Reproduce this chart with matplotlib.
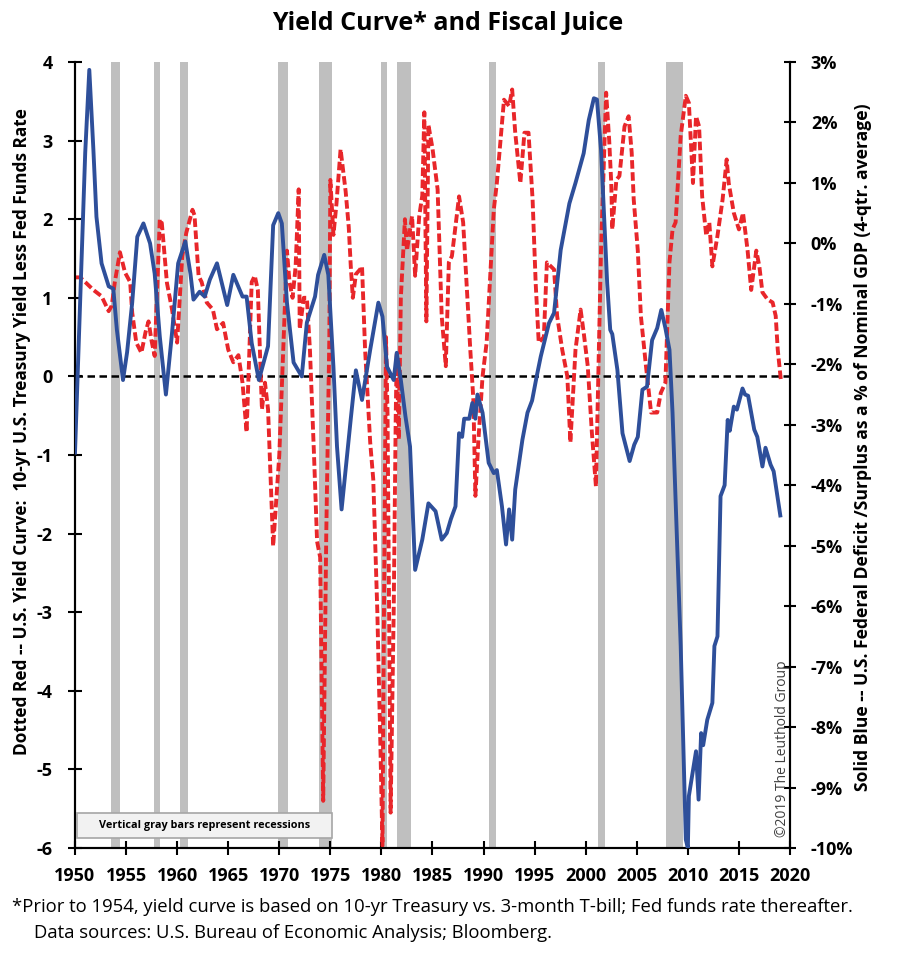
import numpy as np
import matplotlib
matplotlib.use("Agg")
import matplotlib.pyplot as plt
from matplotlib.patches import Rectangle

plt.rcParams['font.family'] = ['Open Sans', 'DejaVu Sans']

# recessions (start, end)
recessions = [(1953.5, 1954.4), (1957.7, 1958.3), (1960.3, 1961.1), (1969.9, 1970.9),
              (1973.9, 1975.2), (1980.0, 1980.5), (1981.5, 1982.9), (1990.5, 1991.2),
              (2001.2, 2001.9), (2007.9, 2009.5)]

# yield curve (10yr less fed funds), left axis
red_years = [1950.0, 1950.5, 1951.0, 1951.8, 1952.6, 1953.3, 1953.6, 1953.9, 1954.4, 1954.9,
             1955.4, 1955.6, 1956.0, 1956.5, 1956.9, 1957.2, 1957.5, 1957.8, 1958.3, 1958.5,
             1959.0, 1959.5, 1960.0, 1960.5, 1960.9, 1961.5, 1961.7, 1962.1, 1962.4, 1962.9,
             1963.5, 1963.9, 1964.5, 1965.0, 1965.5, 1966.0, 1966.4, 1966.8, 1967.3, 1967.6,
             1967.9, 1968.3, 1968.6, 1968.9, 1969.4, 1970.0, 1970.4, 1970.75, 1971.0, 1971.3,
             1971.6, 1971.9, 1972.0, 1972.4, 1972.7, 1973.0, 1973.4, 1973.7, 1974.0, 1974.3,
             1974.6, 1974.9, 1975.0, 1975.3, 1975.6, 1976.0, 1976.5, 1976.8, 1977.0, 1977.2,
             1977.5, 1977.9, 1978.1, 1978.4, 1978.9, 1979.2, 1979.6, 1979.9, 1980.1, 1980.3,
             1980.45, 1980.6, 1980.9, 1981.2, 1981.4, 1981.5, 1981.7, 1981.9, 1982.3, 1982.5,
             1983.0, 1983.3, 1983.7, 1984.0, 1984.2, 1984.4, 1984.6, 1985.0, 1985.5, 1985.9,
             1986.3, 1986.6, 1986.9, 1987.6, 1988.0, 1988.7, 1989.0, 1989.2, 1989.5, 1989.9,
             1990.3, 1991.0, 1991.3, 1992.0, 1992.5, 1992.8, 1993.1, 1993.6, 1994.0, 1994.4,
             1994.8, 1995.1, 1995.4, 1995.9, 1996.2, 1996.9, 1997.2, 1997.7, 1998.2, 1998.5,
             1999.0, 1999.5, 1999.8, 2000.2, 2000.6, 2001.0, 2001.5, 2002.0, 2002.3, 2002.5,
             2002.6, 2003.0, 2003.3, 2003.8, 2004.2, 2004.5, 2004.7, 2005.1, 2005.4, 2005.9,
             2006.4, 2007.0, 2007.35, 2007.8, 2008.2, 2008.5, 2008.8, 2009.3, 2009.8, 2010.1,
             2010.5, 2010.8, 2011.1, 2011.4, 2011.8, 2012.1, 2012.4, 2012.9, 2013.4, 2013.8,
             2014.0, 2014.5, 2015.0, 2015.4, 2015.85, 2016.2, 2016.7, 2017.0, 2017.3, 2017.8,
             2018.3, 2018.6, 2018.8, 2019.1]
red_vals = [1.26, 1.26, 1.2, 1.1, 1.02, 0.83, 0.9, 1.2, 1.58, 1.32,
            1.2, 0.81, 0.43, 0.3, 0.56, 0.7, 0.45, 0.26, 2.0, 1.95,
            1.19, 0.85, 0.43, 1.53, 1.83, 2.12, 2.05, 1.28, 1.2, 0.94,
            0.85, 0.6, 0.68, 0.34, 0.18, 0.27, -0.08, -0.71, 1.2, 1.28,
            1.1, -0.42, -0.08, -0.42, -2.16, -1.0, 0.4, 1.6, 1.2, 1.0,
            1.4, 2.38, 0.6, 1.0, 1.0, 0.34, -1.0, -2.1, -2.3, -5.4,
            -2.0, 0.5, 2.5, 1.8, 2.2, 2.89, 2.35, 1.9, 1.4, 1.0,
            1.3, 1.36, 1.4, 0.34, -0.84, -1.31, -3.0, -4.7, -5.97, -2.0,
            0.5, -0.5, -5.55, -3.0, -0.5, 0.3, -0.8, 1.0, 2.0, 1.6,
            2.04, 1.28, 2.04, 2.3, 3.36, 0.7, 3.2, 2.9, 2.38, 0.77,
            0.13, 1.45, 1.53, 2.29, 1.96, 0.34, -0.29, -1.52, -0.8, 0.0,
            0.43, 2.12, 2.46, 3.52, 3.44, 3.65, 3.1, 2.46, 3.1, 3.1,
            2.25, 1.19, 0.43, 0.5, 1.45, 1.36, 0.77, 0.34, 0.0, -0.84,
            0.34, 0.85, 0.56, 0.13, -0.71, -1.4, 1.62, 3.61, 3.0, 2.46,
            1.87, 2.5, 2.55, 3.18, 3.31, 2.85, 2.25, 1.6, 0.77, 0.13,
            -0.46, -0.46, -0.21, -0.08, 1.45, 1.87, 1.96, 3.06, 3.57, 3.48,
            2.46, 3.31, 3.18, 2.29, 1.79, 1.96, 1.4, 1.79, 2.25, 2.76,
            2.46, 2.08, 1.87, 2.08, 1.6, 1.1, 1.6, 1.4, 1.07, 0.98,
            0.94, 0.77, 0.34, -0.04]

# federal deficit/surplus % of GDP, right axis
blue_years = [1950.0, 1950.5, 1951.0, 1951.4, 1951.8, 1952.1, 1952.6, 1953.3, 1953.75, 1954.1,
              1954.7, 1955.1, 1955.6, 1956.1, 1956.7, 1957.35, 1957.8, 1958.3, 1958.9, 1959.5,
              1960.1, 1960.8, 1961.3, 1961.6, 1962.2, 1962.7, 1963.2, 1963.9, 1964.9, 1965.5,
              1966.4, 1966.8, 1967.3, 1968.0, 1968.9, 1969.4, 1969.9, 1970.25, 1970.75, 1971.4,
              1972.2, 1972.7, 1973.5, 1973.8, 1974.4, 1974.8, 1975.3, 1975.65, 1976.1, 1977.0,
              1977.5, 1978.1, 1978.9, 1979.7, 1980.1, 1980.55, 1981.2, 1981.5, 1981.9, 1982.35,
              1982.8, 1983.3, 1984.0, 1984.6, 1985.3, 1985.9, 1986.4, 1986.8, 1987.25, 1987.6,
              1987.9, 1988.1, 1988.6, 1988.9, 1989.2, 1989.4, 1989.9, 1990.5, 1991.0, 1991.3,
              1991.8, 1992.2, 1992.5, 1992.8, 1993.1, 1993.8, 1994.3, 1994.75, 1995.2, 1995.6,
              1996.4, 1996.9, 1997.55, 1998.4, 1999.0, 1999.8, 2000.3, 2000.8, 2001.1, 2001.5,
              2002.1, 2002.4, 2002.6, 2003.1, 2003.6, 2004.3, 2004.75, 2005.1, 2005.55, 2006.0,
              2006.5, 2007.0, 2007.4, 2007.8, 2008.2, 2008.5, 2009.3, 2009.8, 2010.0, 2010.1,
              2010.8, 2011.05, 2011.3, 2011.5, 2011.9, 2012.4, 2012.6, 2012.9, 2013.2, 2013.6,
              2013.9, 2014.1, 2014.5, 2014.8, 2015.35, 2015.6, 2015.9, 2016.5, 2016.8, 2017.3,
              2017.6, 2018.1, 2018.4, 2019.05]
blue_vals = [-3.46, -1.0, 1.5, 2.87, 1.55, 0.44, -0.33, -0.71, -0.75, -1.43,
             -2.26, -1.8, -0.98, 0.11, 0.33, 0.0, -0.5, -1.54, -2.5, -1.48,
             -0.33, 0.03, -0.5, -0.93, -0.8, -0.88, -0.6, -0.33, -1.02, -0.52,
             -0.88, -0.88, -1.65, -2.26, -1.7, 0.3, 0.5, 0.33, -0.98, -1.97,
             -2.2, -1.31, -0.88, -0.52, -0.19, -0.52, -2.04, -3.36, -4.4, -2.9,
             -2.1, -2.59, -1.76, -0.98, -1.21, -2.04, -2.26, -1.81, -2.26, -2.86,
             -3.36, -5.4, -4.9, -4.3, -4.43, -4.9, -4.79, -4.56, -4.35, -3.14,
             -3.2, -2.9, -2.9, -2.64, -2.9, -2.5, -2.8, -3.63, -3.8, -3.75,
             -4.35, -4.98, -4.4, -4.9, -4.07, -3.25, -2.8, -2.6, -2.2, -1.87,
             -1.32, -1.15, -0.11, 0.66, 1.0, 1.49, 2.04, 2.4, 2.38, 1.55,
             -0.66, -1.43, -1.5, -2.09, -3.14, -3.6, -3.33, -3.2, -2.42, -2.37,
             -1.6, -1.4, -1.1, -1.4, -1.76, -2.8, -6.66, -9.86, -10.0, -9.14,
             -8.4, -9.2, -8.1, -8.3, -7.88, -7.6, -6.66, -6.5, -4.18, -4.0,
             -2.92, -3.1, -2.7, -2.75, -2.4, -2.5, -2.52, -3.08, -3.2, -3.69,
             -3.38, -3.66, -3.77, -4.5]

x_ticks = list(range(1950, 2021, 5))
left_ticks = list(range(-6, 5))
right_ticks = list(range(-10, 4))

fig = plt.figure(figsize=(9, 9.58), dpi=100)
ax = fig.add_axes([75 / 900, 110 / 958, 715 / 900, 786 / 958])
ax2 = ax.twinx()

for start, end in recessions:
    ax.axvspan(start, end, color='#bfbfbf', lw=0, zorder=0)

ax.axhline(0, color='black', lw=1.8, ls=(0, (3, 1.8)), zorder=2)
ax.plot(red_years, red_vals, color='#e8262a', lw=2.8, ls=(0, (2.2, 0.9)), zorder=3)
ax2.plot(blue_years, blue_vals, color='#2e4f9a', lw=2.8, solid_joinstyle='round', zorder=4)

ax.set_xlim(1950, 2020)
ax.set_ylim(-6, 4)
ax2.set_ylim(-10, 3)
ax.set_xticks(x_ticks)
ax.set_xticklabels([str(t) for t in x_ticks], fontsize=13, fontweight='bold')
ax.set_yticks(left_ticks)
ax.set_yticklabels([str(t) for t in left_ticks], fontsize=13, fontweight='bold')
ax2.set_yticks(right_ticks)
ax2.set_yticklabels([f"{t}%" for t in right_ticks], fontsize=13, fontweight='bold')

for a in (ax, ax2):
    a.spines['top'].set_visible(False)
    for s in ('left', 'right', 'bottom'):
        a.spines[s].set_linewidth(1.5)
ax.tick_params(axis='both', direction='inout', length=10, width=1.5)
ax.tick_params(axis='y', pad=11)
ax.tick_params(axis='x', pad=9)
ax2.tick_params(axis='y', direction='inout', length=8, width=1.5, pad=11)

ax.set_ylabel("Dotted Red -- U.S. Yield Curve:  10-yr U.S. Treasury Yield Less Fed Funds Rate",
              fontsize=12.4, fontweight='bold')
ax.yaxis.set_label_coords(-0.062, 0.53)
ax2.set_ylabel("Solid Blue -- U.S. Federal Deficit /Surplus as a % of Nominal GDP (4-qtr. average)",
               fontsize=12.6, fontweight='bold')
ax2.yaxis.set_label_coords(1.09, 0.5095)

# recession note box
ax.add_patch(Rectangle((0.003, 0.0127), 0.356, 0.032, transform=ax.transAxes,
                       fc='#f2f2f2', ec='#a6a6a6', lw=1.2, zorder=6))
ax.text(0.181, 0.0286, "Vertical gray bars represent recessions", transform=ax.transAxes,
        fontsize=7.8, fontweight='bold', ha='center', va='center', zorder=7)

ax2.text(0.99, 0.014, "\u00a92019 The Leuthold Group", transform=ax2.transAxes,
         rotation=90, fontsize=10, ha='center', va='bottom', color='#404040')

fig.text(448 / 900, 1 - 23 / 958, "Yield Curve* and Fiscal Juice",
         fontsize=18, fontweight='bold', ha='center', va='center')
fig.text(12 / 900, 1 - 907 / 958,
         "*Prior to 1954, yield curve is based on 10-yr Treasury vs. 3-month T-bill; Fed funds rate thereafter.",
         fontsize=13.3, ha='left', va='center')
fig.text(34 / 900, 1 - 933 / 958, "Data sources: U.S. Bureau of Economic Analysis; Bloomberg.",
         fontsize=13.3, ha='left', va='center')

fig.savefig("out.png", dpi=100)
